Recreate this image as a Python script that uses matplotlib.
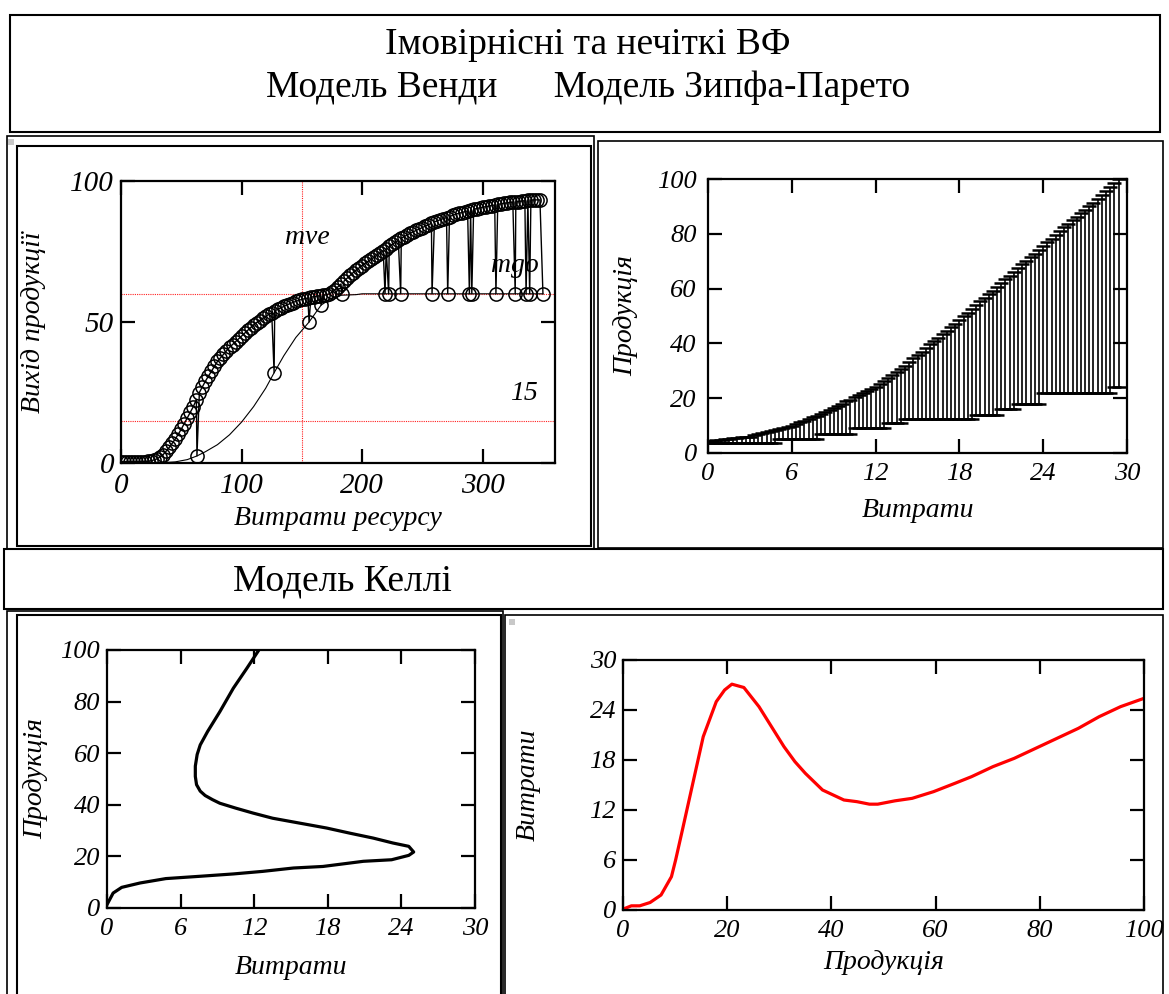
import numpy as np
import matplotlib
matplotlib.use("Agg")
import matplotlib.pyplot as plt
from matplotlib.patches import Rectangle

plt.rcParams['font.family'] = ['Liberation Serif', 'DejaVu Serif']
plt.rcParams['font.style'] = 'italic'

W, H = 1169, 994

# --- Модель Венди: output vs resource ---
wendy_x = [2.5 * i for i in range(140)]
wendy_y = [0.5, 0.5, 0.5, 0.5, 0.5, 0.5, 0.5, 0.5, 0.5, 0.6, 0.8, 1.1, 1.5, 2.2, 3, 4.2,
           5.5, 7, 8.5, 10.2, 12, 14, 16, 18, 20, 22.5, 25, 27, 29, 30.8, 32.5, 34.3, 36,
           37.3, 38.5, 39.8, 41, 42, 43, 44, 45, 46, 47, 48, 49, 49.8, 50.5, 51.3, 52,
           52.7, 53.3, 53.9, 54.5, 55, 55.5, 56, 56.5, 56.9, 57.3, 57.7, 58, 58.3, 58.5,
           58.8, 59, 59.2, 59.3, 59.5, 59.6, 60, 60.5, 61.4, 62.5, 63.5, 64.5, 65.5, 66.5,
           67.5, 68.4, 69.2, 70, 70.8, 71.5, 72.3, 73, 73.8, 74.5, 75.3, 76, 76.8, 77.5,
           78.3, 79, 79.7, 80.3, 80.9, 81.5, 82, 82.5, 83, 83.5, 84, 84.5, 85, 85.5, 85.9,
           86.3, 86.7, 87, 87.4, 87.8, 88.2, 88.5, 88.8, 89.1, 89.4, 89.7, 90, 90.2, 90.5,
           90.7, 90.9, 91.1, 91.3, 91.5, 91.7, 91.9, 92.1, 92.2, 92.4, 92.5, 92.6, 92.7,
           92.9, 93, 93.1, 93.2, 93.3, 93.3, 93.3]
dip_x = [63, 127, 156, 166, 183, 219, 222, 232, 258, 271, 289, 291, 311, 327, 336, 339, 350]
dip_y = [2.5, 32, 50, 56, 60, 60, 60, 60, 60, 60, 60, 60, 60, 60, 60, 60, 60]
base_x = [0, 30, 45, 55, 63, 70, 80, 90, 100, 110, 120, 127, 135, 145, 156, 166, 175,
          183, 195, 200, 350]
base_y = [0, 0, 0.4, 1.2, 2.5, 4, 6.5, 10, 14.5, 20, 26.5, 32, 38, 44.5, 50, 56, 58.5,
          59.5, 59.7, 60, 60]
mve, mgo, low_level = 150, 60, 15

# --- Модель Зипфа-Парето: ranges of output per cost ---
zp_x = [round(0.3 * i, 1) for i in range(99)]
zp_upper = [4.3, 4.5, 4.6, 4.8, 5.0, 5.1, 5.3, 5.5, 5.7, 5.8, 6.0, 6.4, 6.8, 7.2, 7.6,
            8.0, 8.4, 8.8, 9.2, 9.6, 10.0, 10.6, 11.2, 11.8, 12.4, 13.0, 13.6, 14.3,
            15.0, 15.8, 16.5, 17.3, 18.0, 18.8, 19.5, 20.3, 21.0, 21.8, 22.5, 23.3,
            24.0, 25.1, 26.3, 27.4, 28.5, 29.6, 30.8, 31.9, 33.2, 34.5, 35.8, 37.0,
            38.3, 39.6, 40.9, 42.1, 43.4, 44.7, 46.0, 47.2, 48.5, 49.9, 51.2, 52.6,
            53.9, 55.3, 56.6, 58.0, 59.3, 60.7, 62.0, 63.4, 64.7, 66.1, 67.4, 68.8,
            70.1, 71.5, 72.8, 74.2, 75.5, 76.9, 78.2, 79.6, 80.9, 82.3, 83.6, 84.9,
            86.2, 87.5, 88.8, 90.0, 91.3, 92.6, 94.0, 95.5, 97.0, 98.5, 100.0]
zp_lower = ([3.5] * 17 + [5.0] * 10 + [7.0] * 8 + [9.0] * 8 + [11.0] * 4 + [12.5] * 17
            + [14.0] * 6 + [16.0] * 4 + [18.0] * 6 + [22.0] * 17 + [24.0] * 2)

# --- Модель Келлі ---
kl_cost = [0, 0.5, 1.2, 2.7, 4.8, 7.6, 10.3, 12.7, 15.2, 17.6, 20.9, 23.2, 24.6, 25.0,
           24.6, 23.3, 21.7, 19.8, 17.9, 15.7, 13.5, 11.9, 10.5, 9.2, 8.6, 8.0, 7.6, 7.3,
           7.2, 7.2, 7.35, 7.6, 8.2, 9.2, 10.3, 11.4, 12.3]
kl_prod = [1.3, 5.8, 8.0, 9.7, 11.4, 12.3, 13.2, 14.2, 15.5, 16.1, 18.1, 18.7, 20.4, 21.7,
           23.9, 25.2, 27.1, 29.0, 31.0, 32.9, 34.8, 36.8, 38.7, 40.6, 42.0, 43.6, 45.3,
           47.8, 51.0, 55.0, 59.5, 63.2, 68.4, 76.1, 85.2, 92.9, 99.4]
kr_prod = [0, 1.6, 3.2, 5.2, 7.3, 9.3, 10.1, 11.4, 13.4, 15.4, 17.9, 19.5, 20.9, 23.2,
           26.1, 29.3, 30.9, 33.0, 35.0, 38.3, 42.4, 44.9, 47.3, 48.9, 52.2, 55.5, 59.6,
           63.7, 66.9, 71.0, 75.1, 79.2, 83.3, 87.4, 91.4, 95.5, 100]
kr_cost = [0.1, 0.5, 0.5, 0.9, 1.8, 4.0, 6.0, 9.6, 15.2, 20.8, 25.0, 26.4, 27.1, 26.7,
           24.4, 21.2, 19.6, 17.8, 16.4, 14.4, 13.2, 13.0, 12.7, 12.7, 13.1, 13.4, 14.2,
           15.2, 16.0, 17.2, 18.2, 19.4, 20.6, 21.8, 23.2, 24.4, 25.4]

fig = plt.figure(figsize=(W / 100, H / 100), dpi=100)


def px_axes(x0, y0, x1, y1):
    return fig.add_axes([x0 / W, 1 - y1 / H, (x1 - x0) / W, (y1 - y0) / H])


def box(x0, y0, x1, y1, lw=1.5, color='black', fill=False):
    fig.patches.append(Rectangle((x0 / W, 1 - y1 / H), (x1 - x0) / W, (y1 - y0) / H,
                                 transform=fig.transFigure, fill=fill, lw=lw,
                                 edgecolor=color, facecolor=color))


def style(ax, xlim, ylim, xticks, yticks, fs=19):
    ax.set_xlim(*xlim)
    ax.set_ylim(*ylim)
    ax.set_xticks(xticks)
    ax.set_yticks(yticks)
    ax.tick_params(direction='in', length=10, width=1.6, top=True, right=True,
                   labelsize=fs, pad=5)
    ax.tick_params(axis='x', pad=7)
    for s in ax.spines.values():
        s.set_linewidth(1.6)


# frames
box(10, 15, 1160, 132)
box(7, 136, 594, 549, lw=1.2)
box(17, 146, 591, 546)
box(598, 141, 1163, 548, lw=1.2)
box(4, 549, 1163, 609)
box(7, 611, 503, 1000, lw=1.2)
box(17, 615, 501, 1000)
box(505, 615, 1163, 1000, lw=1.2)
box(8, 139, 14, 145, lw=0, color='#c8c8c8', fill=True)
box(509, 619, 515, 625, lw=0, color='#c8c8c8', fill=True)

fig.text(588 / W, 1 - 45 / H, 'Імовірнісні та нечіткі ВФ', ha='center', va='center',
         fontsize=27, style='normal')
fig.text(588 / W, 1 - 88 / H, 'Модель Венди      Модель Зипфа-Парето', ha='center',
         va='center', fontsize=27, style='normal')
fig.text(342 / W, 1 - 581 / H, 'Модель Келлі', ha='center', va='center', fontsize=27,
         style='normal')

# top left
ax1 = px_axes(121, 181, 555, 463)
red = dict(color='#ff2020', lw=0.8, ls=(0, (1, 1)))
ax1.axhline(mgo, **red)
ax1.axhline(low_level, **red)
ax1.axvline(mve, **red)
ax1.plot(base_x, base_y, color='black', lw=0.8)
order = np.argsort(np.r_[wendy_x, dip_x], kind='stable')
sx = np.r_[wendy_x, dip_x][order]
sy = np.r_[wendy_y, dip_y][order]
ax1.plot(sx, sy, color='black', lw=1.0, marker='o', ms=9.5, mfc='none', mew=1.1)
ax1.text(155, 80, 'mve', fontsize=20, ha='center', va='center')
ax1.text(327, 70, 'mgo', fontsize=20, ha='center', va='center')
ax1.text(334, 24.5, '15', fontsize=20, ha='center', va='center')
style(ax1, (0, 360), (0, 100), [0, 100, 200, 300], [0, 50, 100], fs=21)
ax1.set_xlabel('Витрати ресурсу', fontsize=20)
ax1.set_ylabel('Вихід продукції', fontsize=20)
ax1.xaxis.set_label_coords(0.5, -0.152)
ax1.yaxis.set_label_coords(-0.173, 0.5)

# top right
ax2 = px_axes(708, 179, 1127, 453)
ax2.vlines(zp_x, zp_lower, zp_upper, color='black', lw=1.2)
ax2.plot(zp_x, zp_upper, ls='none', marker='_', ms=10, mew=1.8, color='black')
ax2.plot(zp_x, zp_lower, ls='none', marker='_', ms=10, mew=1.8, color='black')
style(ax2, (0, 30), (0, 100), [0, 6, 12, 18, 24, 30], [0, 20, 40, 60, 80, 100])
ax2.tick_params(axis='y', pad=8)
ax2.set_xlabel('Витрати', fontsize=20)
ax2.set_ylabel('Продукція', fontsize=20)
ax2.xaxis.set_label_coords(0.5, -0.164)
ax2.yaxis.set_label_coords(-0.167, 0.5)

# bottom left
ax3 = px_axes(107, 650, 475, 908)
ax3.plot(kl_cost, kl_prod, color='black', lw=2.3)
style(ax3, (0, 30), (0, 100), [0, 6, 12, 18, 24, 30], [0, 20, 40, 60, 80, 100])
ax3.set_xlabel('Витрати', fontsize=20)
ax3.set_ylabel('Продукція', fontsize=20)
ax3.xaxis.set_label_coords(0.5, -0.182)
ax3.yaxis.set_label_coords(-0.160, 0.5)

# bottom right
ax4 = px_axes(623, 660, 1144, 910)
ax4.plot(kr_prod, kr_cost, color='red', lw=2.3)
style(ax4, (0, 100), (0, 30), [0, 20, 40, 60, 80, 100], [0, 6, 12, 18, 24, 30])
ax4.set_xlabel('Продукція', fontsize=20)
ax4.set_ylabel('Витрати', fontsize=20)
ax4.xaxis.set_label_coords(0.5, -0.16)
ax4.yaxis.set_label_coords(-0.157, 0.5)

fig.savefig('out.png', dpi=100)
